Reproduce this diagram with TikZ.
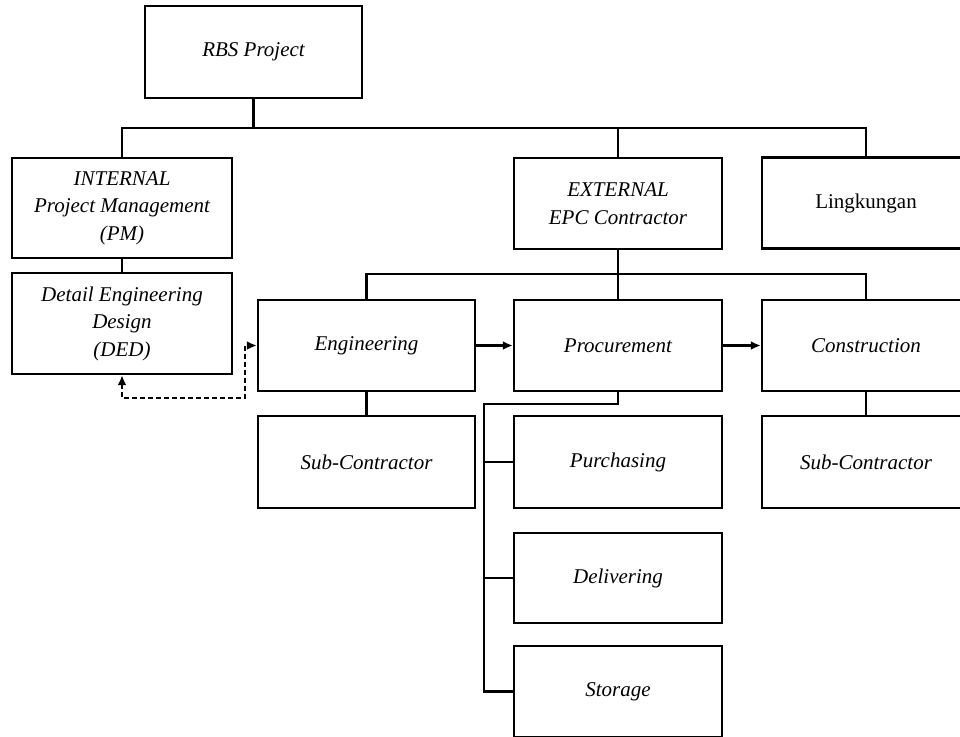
\documentclass[tikz,border=0pt]{standalone}
\usepackage{fontspec}
\setmainfont{Liberation Serif}
\usetikzlibrary{arrows.meta}
\begin{document}
\begin{tikzpicture}[x=1pt,y=-1pt,
  box/.style={draw,line width=2.4pt,inner sep=0pt,align=center,
    font=\fontsize{21}{27.5}\selectfont\itshape},
  conn/.style={line width=2.4pt},
  arr/.style={line width=2.4pt,-{Latex[length=10pt,width=9pt]}},
  dsh/.style={line width=2.2pt,dash pattern=on 5pt off 3pt,
    {Latex[length=10pt,width=9pt]}-{Latex[length=10pt,width=9pt]}}]
\useasboundingbox[fill=white] (0,0) rectangle (960,736);
% nodes
\node[box,minimum width=217pt,minimum height=92pt] (rbs) at (253.5,52) {RBS Project};
\node[box,minimum width=220pt,minimum height=100pt] (int) at (122,208) {INTERNAL\\Project Management\\(PM)};
\node[box,minimum width=220pt,minimum height=101pt] (ded) at (122,323.5) {Detail Engineering\\Design\\(DED)};
\node[box,minimum width=208pt,minimum height=91pt] (ext) at (618,203.5) {EXTERNAL\\EPC Contractor};
\node[box,minimum width=208pt,minimum height=91pt,font=\fontsize{21}{27.5}\selectfont\upshape] (lin) at (866,203) {Lingkungan};
\node[box,minimum width=217pt,minimum height=91pt] (eng) at (366.5,345.5) {Engineering};
\node[box,minimum width=208pt,minimum height=91pt] (pro) at (618,345.5) {Procurement};
\node[box,minimum width=208pt,minimum height=91pt] (con) at (866,345.5) {Construction};
\node[box,minimum width=217pt,minimum height=92pt] (sub1) at (366.5,462) {Sub-Contractor};
\node[box,minimum width=208pt,minimum height=92pt] (pur) at (618,462) {Purchasing};
\node[box,minimum width=208pt,minimum height=92pt] (sub2) at (866,462) {Sub-Contractor};
\node[box,minimum width=208pt,minimum height=90pt] (del) at (618,578) {Delivering};
\node[box,minimum width=208pt,minimum height=91pt] (sto) at (618,691.5) {Storage};
% helper coordinates
\coordinate (bus1) at (0,128);
\coordinate (bus2) at (0,274);
\coordinate (dc) at (245,398);
\coordinate (pt) at (484,404);
% connectors
\draw[conn] (rbs.south) -- (rbs.south |- bus1);
\draw[conn] (int.north) |- (lin.north |- bus1) -- (lin.north);
\draw[conn] (ext.north) -- (ext.north |- bus1);
\draw[conn] (int.south) -- (ded.north);
\draw[conn] (ext.south) -- (pro.north);
\draw[conn] (eng.north) |- (con.north |- bus2) -- (con.north);
\draw[arr] (eng.east) -- (pro.west);
\draw[arr] (pro.east) -- (con.west);
\draw[dsh] (ded.south) |- (dc) |- (eng.west);
\draw[conn] (eng.south) -- (sub1.north);
\draw[conn] (con.south) -- (sub2.north);
\draw[conn] (pro.south) |- (pt) -- (pt |- sto.west) -- (sto.west);
\draw[conn] (pt |- pur.west) -- (pur.west);
\draw[conn] (pt |- del.west) -- (del.west);
\end{tikzpicture}
\end{document}
